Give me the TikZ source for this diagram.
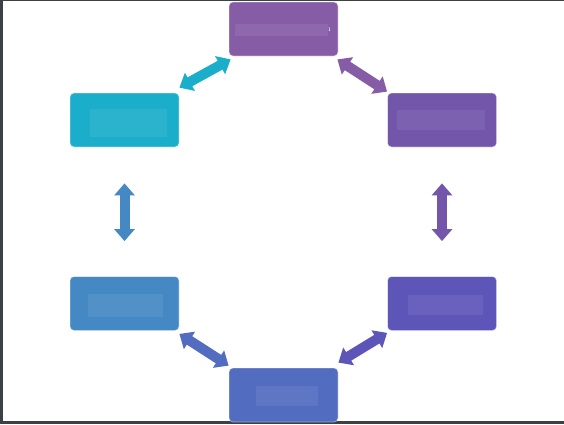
\documentclass[tikz,border=0pt]{standalone}
\usetikzlibrary{arrows.meta,calc}
\definecolor{cTop}{HTML}{875CA6}
\definecolor{cTR}{HTML}{7355AA}
\definecolor{cBR}{HTML}{5E55B8}
\definecolor{cBot}{HTML}{526CBF}
\definecolor{cBL}{HTML}{4589C4}
\definecolor{cTL}{HTML}{1BAECB}
\definecolor{frame}{HTML}{3C4145}
\tikzset{
  card/.style={rectangle, rounded corners=4pt, minimum width=109pt, minimum height=54pt,
    inner sep=0pt, draw=white, draw opacity=0.45, line width=0.8pt},
  glow/.style={rectangle, inner sep=0pt, fill=white, fill opacity=0.07, draw=none},
  dbl/.style={line width=10pt, {Triangle[length=12pt,width=20pt]}-{Triangle[length=12pt,width=20pt]}},
}
\begin{document}
\begin{tikzpicture}[x=1pt,y=-1pt]
\useasboundingbox (0,0) rectangle (564,424);
\fill[white] (0,0) rectangle (564,424);
% frame
\fill[frame] (0,0) rectangle (3,424);
\fill[frame] (0,0) rectangle (564,1);
\fill[frame] (0,421) rectangle (564,424);
% cards
\node[card, fill=cTop] (top) at (283.5,29) {};
\node[card, fill=cTL] (tl) at (124.5,120) {};
\node[card, fill=cTR] (tr) at (442,120) {};
\node[card, fill=cBR] (br) at (442,303.5) {};
\node[card, fill=cBot] (bot) at (283.5,395) {};
\node[card, fill=cBL] (bl) at (124.5,303.5) {};
% inner glows
\node[glow, minimum width=93pt, minimum height=12pt] (topin) at (281.5,30) {};
\node[glow, minimum width=77pt, minimum height=28pt] (tlin) at (128.5,123) {};
\node[glow, minimum width=88pt, minimum height=20pt] (trin) at (441,120) {};
\node[glow, minimum width=75pt, minimum height=20pt] (brin) at (445.5,305) {};
\node[glow, minimum width=62pt, minimum height=20pt] (botin) at (287,396) {};
\node[glow, minimum width=75pt, minimum height=23pt] (blin) at (125.5,305.5) {};
\node[text=white, font=\fontsize{8}{8}\selectfont, inner sep=0pt] (mark) at (329.5,30) {\i};
% connectors
\draw[dbl, draw=cTL, fill=cTL] ($(tl.north east)+(0,-5)$) -- ($(top.south west)+(2,3)$);
\draw[dbl, draw=cTop, fill=cTop] ($(top.south east)+(-1,3)$) -- ($(tr.north west)+(0,-1)$);
\draw[dbl, draw=cTR, fill=cTR] ($(tr.south)+(0,36)$) -- ($(br.north)+(0,-35)$);
\draw[dbl, draw=cBR, fill=cBR] ($(br.south west)+(0,2)$) -- ($(bot.north east)+(0,-5)$);
\draw[dbl, draw=cBot, fill=cBot] ($(bot.north west)+(0,-2)$) -- ($(bl.south east)+(0,3)$);
\draw[dbl, draw=cBL, fill=cBL] ($(bl.north)+(0,-35)$) -- ($(tl.south)+(0,36)$);
\end{tikzpicture}
\end{document}
